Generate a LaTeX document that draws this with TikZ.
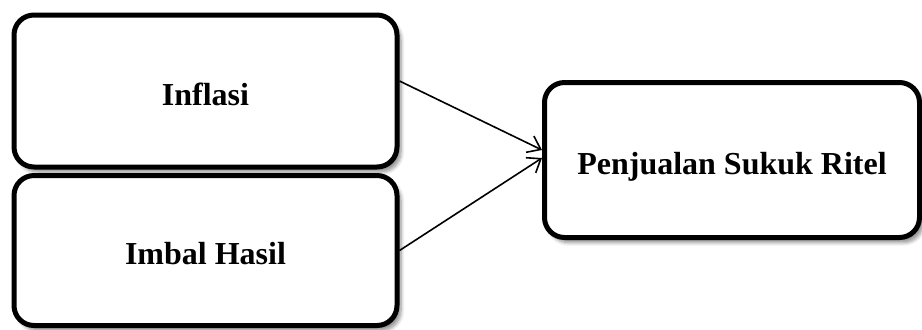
\documentclass[tikz,border=0pt]{standalone}
\usepackage{fontspec}
\setmainfont{Liberation Serif}
\usetikzlibrary{arrows.meta,shadows.blur}
\begin{document}
\begin{tikzpicture}[
        x=0.5pt, y=-0.5pt,
        varbox/.style={draw, line width=2.5pt, rounded corners=10pt, fill=white,
            blur shadow={shadow xshift=2pt, shadow yshift=-2.5pt, shadow blur steps=6, shadow opacity=45},
            text height=14pt, text depth=0pt,
            font=\fontsize{16}{19}\selectfont\bfseries},
        forward/.style={-{Straight Barb[length=6pt,width=9pt,line width=0.8pt]}, line width=0.8pt}
    ]
        \useasboundingbox (0, 0) rectangle (922, 329);
        \node[varbox, minimum width=191.5pt, minimum height=76pt] (infl) at (205.5, 91) {Inflasi};
        \node[varbox, minimum width=191.5pt, minimum height=75pt] (imbal) at (205.5, 250.5) {Imbal Hasil};
        \node[varbox, minimum width=187.5pt, minimum height=77.5pt] (sukuk) at (732, 160) {Penjualan Sukuk Ritel};
        \draw[forward] ([yshift=5pt]infl.east) -- ([yshift=5pt]sukuk.west);
        \draw[forward] (imbal.east) -- ([yshift=1pt]sukuk.west);
    \end{tikzpicture}
\end{document}
